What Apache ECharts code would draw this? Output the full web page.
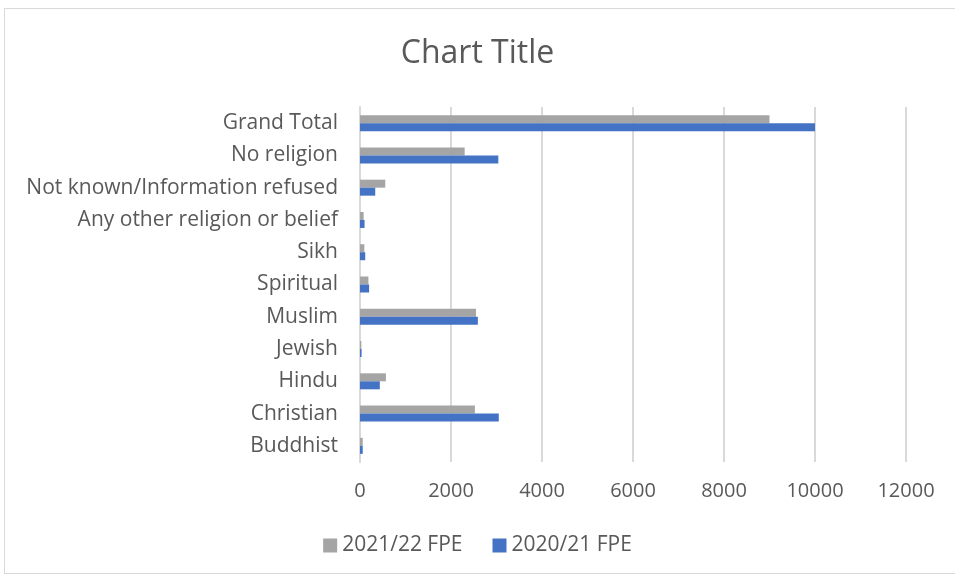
<!DOCTYPE html>
<html>
<head>
<meta charset="utf-8">
<script src="https://cdn.jsdelivr.net/npm/echarts@6/dist/echarts.min.js"></script>
<style>
  html, body { margin: 0; padding: 0; background: #fff; }
  #frame { position: absolute; left: 4px; top: 8px; width: 960px; height: 566px; border: 1px solid #d9d9d9; box-sizing: border-box; }
  #chart { position: absolute; left: 0; top: 0; width: 955px; height: 578px; }
</style>
</head>
<body>
<div id="frame"></div>
<div id="chart"></div>
<script>
// categories listed bottom to top, as the y axis draws them
const categories = ['Buddhist', 'Christian', 'Hindu', 'Jewish', 'Muslim', 'Spiritual', 'Sikh',
  'Any other religion or belief', 'Not known/Information refused', 'No religion', 'Grand Total'];
const fpe2021 = [60, 2525, 570, 30, 2550, 185, 95, 80, 555, 2300, 9000];
const fpe2020 = [60, 3050, 435, 35, 2590, 200, 115, 100, 335, 3040, 10000];
const seriesNames = ['2021/22 FPE', '2020/21 FPE'];

const chart = echarts.init(document.getElementById('chart'), null, { renderer: 'canvas' });
const font = 'Open Sans, sans-serif';

chart.setOption({
  animation: false,
  title: {
    text: 'Chart Title',
    left: 'center',
    top: 33,
    textStyle: { fontFamily: font, fontSize: 32, fontWeight: 'normal', color: '#595959' }
  },
  legend: {
    data: seriesNames,
    bottom: 17,
    left: 'center',
    itemWidth: 14,
    itemHeight: 14,
    itemGap: 30,
    icon: 'rect',
    textStyle: { fontFamily: font, fontSize: 21, color: '#595959' }
  },
  grid: { left: 360, right: 49, top: 107, bottom: 116, containLabel: false },
  xAxis: {
    type: 'value',
    min: 0,
    max: 12000,
    interval: 2000,
    axisLine: { show: false },
    axisTick: { show: false },
    splitLine: { lineStyle: { color: '#d9d9d9', width: 2 } },
    axisLabel: { fontFamily: font, fontSize: 20, color: '#595959', margin: 19, formatter: v => String(v) }
  },
  yAxis: {
    type: 'category',
    data: categories,
    axisLine: { lineStyle: { color: '#d9d9d9', width: 2 } },
    axisTick: { show: false },
    axisLabel: { fontFamily: font, fontSize: 21, color: '#595959', margin: 22 }
  },
  series: [
    {
      name: seriesNames[0],
      type: 'bar',
      data: fpe2021,
      barWidth: 8,
      barGap: '0%',
      itemStyle: { color: '#a5a5a5' }
    },
    {
      name: seriesNames[1],
      type: 'bar',
      data: fpe2020,
      barWidth: 8,
      barGap: '0%',
      itemStyle: { color: '#4472c4' }
    }
  ]
});
</script>
</body>
</html>
